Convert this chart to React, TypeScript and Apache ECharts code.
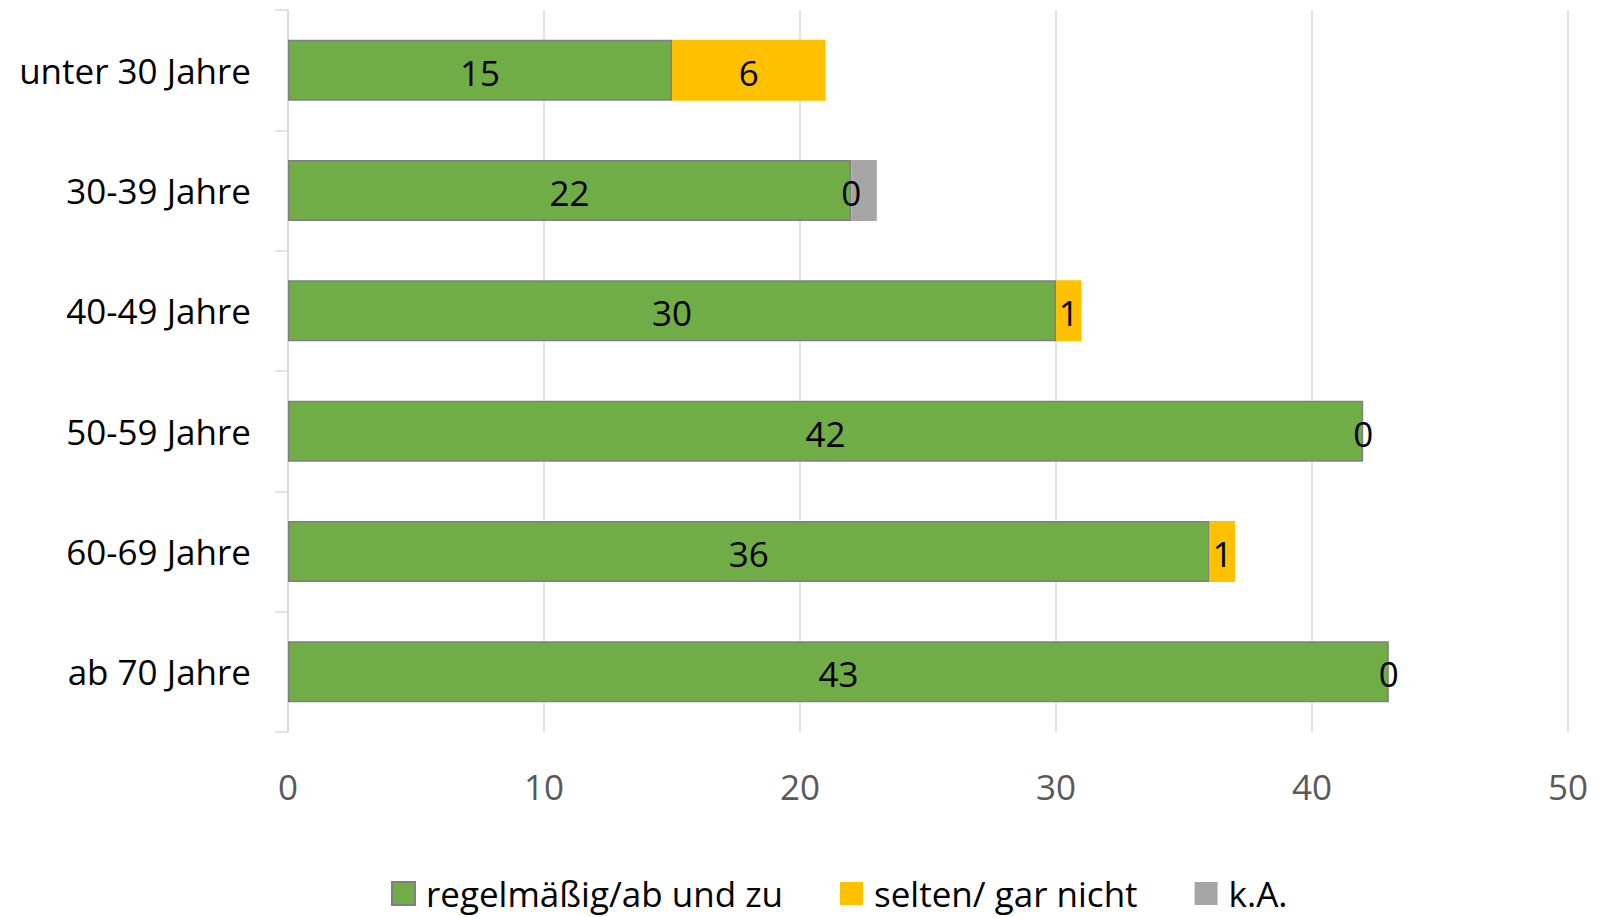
import React, { useEffect, useRef } from "react";
import * as echarts from "echarts";

const categories = ["unter 30 Jahre", "30-39 Jahre", "40-49 Jahre", "50-59 Jahre", "60-69 Jahre", "ab 70 Jahre"];
const regelmaessig = [15, 22, 30, 42, 36, 43];
const selten = [6, 0, 1, 0, 1, 0];
const keineAngabe = [0, 1, 0, 0, 0, 0];
const seriesNames = ["regelmäßig/ab und zu", "selten/ gar nicht", "k.A."];
const xTicks = { min: 0, max: 50, interval: 10 };

const FONT = "'Open Sans', 'Noto Sans', sans-serif";

export default function App() {
  const ref = useRef<HTMLDivElement>(null);
  useEffect(() => {
    if (!ref.current) return;
    const chart = echarts.init(ref.current, null, { renderer: "svg" });
    const labelStyle = { show: true, position: "inside", color: "#000", fontSize: 35, fontFamily: FONT, offset: [0, 2] };
    chart.setOption({
      animation: false,
      textStyle: { fontFamily: FONT },
      grid: { left: 288, right: 29, top: 10, bottom: 185, containLabel: false },
      legend: {
        left: 386,
        top: 871,
        icon: "rect",
        itemWidth: 23,
        itemHeight: 23,
        itemGap: 57,
        textStyle: { fontSize: 35, color: "#000", fontFamily: FONT, padding: [0, 0, 0, 6] },
        data: seriesNames,
      },
      xAxis: {
        type: "value",
        min: xTicks.min,
        max: xTicks.max,
        interval: xTicks.interval,
        axisLine: { show: false },
        axisTick: { show: false },
        splitLine: { show: true, lineStyle: { color: "#D9D9D9", width: 1.5 } },
        axisLabel: { color: "#595959", fontSize: 35, fontFamily: FONT, margin: 37 },
      },
      yAxis: {
        type: "category",
        inverse: true,
        data: categories,
        axisLine: { show: true, lineStyle: { color: "#D9D9D9", width: 1.5 } },
        axisTick: { show: true, length: 13, lineStyle: { color: "#D9D9D9", width: 1.5 } },
        axisLabel: { color: "#000", fontSize: 35, fontFamily: FONT, margin: 37 },
      },
      series: [
        {
          name: seriesNames[0],
          type: "bar",
          stack: "total",
          barWidth: 61,
          data: regelmaessig,
          itemStyle: { color: "#70AD47", borderColor: "#7F7F7F", borderWidth: 1.5 },
          label: labelStyle,
        },
        {
          name: seriesNames[1],
          type: "bar",
          stack: "total",
          barWidth: 61,
          data: selten,
          itemStyle: { color: "#FFC000" },
          label: labelStyle,
          z: 3,
        },
        {
          name: seriesNames[2],
          type: "bar",
          stack: "total",
          barWidth: 61,
          data: keineAngabe,
          itemStyle: { color: "#A5A5A5" },
          label: { show: false },
          z: 2,
        },
      ],
    });
    return () => chart.dispose();
  }, []);
  return <div ref={ref} style={{ position: "absolute", left: 0, top: 0, width: 1597, height: 917 }} />;
}
